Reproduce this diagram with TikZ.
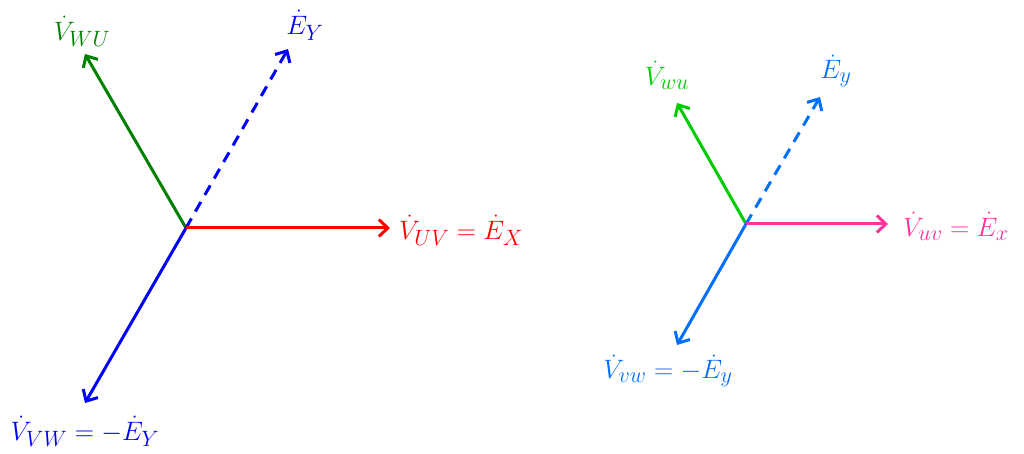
\documentclass[tikz,border=0pt]{standalone}
\usepackage{graphicx}
\usetikzlibrary{arrows.meta}
\definecolor{dgreen}{RGB}{0,128,0}
\definecolor{lgreen}{RGB}{0,204,0}
\definecolor{pinkc}{RGB}{255,51,153}
\definecolor{lblue}{RGB}{0,112,255}
\newcommand{\lbltext}[1]{\scalebox{1.07}{\Huge$#1$}}
\begin{document}
\begin{tikzpicture}[x=1pt,y=-1pt,
  vec/.style={line width=3pt,-{Straight Barb[length=9pt,width=17pt,line width=3pt]}},
  dvec/.style={vec,dash pattern=on 11pt off 8pt},
  lbl/.style={inner sep=0pt}]
\useasboundingbox (0,0) rectangle (1024,454);
% left diagram
\coordinate (O1) at (186,228);
\coordinate (A1) at (390,228);
\coordinate (B1) at (85,54);
\coordinate (C1) at (288,49);
\coordinate (D1) at (85,403);
\draw[vec,dgreen] (O1) -- (B1);
\draw[dvec,blue] (O1) -- (C1);
\draw[vec,blue] (O1) -- (D1);
\draw[vec,red] (O1) -- (A1);
\node[lbl,text=dgreen] (lb1) at (82,31) {\lbltext{\dot{V}_{WU}}};
\node[lbl,text=blue] (lc1) at (305,25) {\lbltext{\dot{E}_{Y}}};
\node[lbl,text=red,anchor=west] (la1) at (399,230) {\lbltext{\dot{V}_{UV}=\dot{E}_{X}}};
\node[lbl,text=blue] (ld1) at (85,431) {\lbltext{\dot{V}_{VW}=-\dot{E}_{Y}}};
% right diagram
\coordinate (O2) at (746,224);
\coordinate (A2) at (888,224);
\coordinate (B2) at (677,103);
\coordinate (C2) at (820,97);
\coordinate (D2) at (677,345);
\draw[vec,lgreen] (O2) -- (B2);
\draw[dvec,lblue] (O2) -- (C2);
\draw[vec,lblue] (O2) -- (D2);
\draw[vec,pinkc] (O2) -- (A2);
\node[lbl,text=lgreen] (lb2) at (667,75) {\lbltext{\dot{V}_{wu}}};
\node[lbl,text=lblue] (lc2) at (836,71) {\lbltext{\dot{E}_{y}}};
\node[lbl,text=pinkc,anchor=west] (la2) at (903,226) {\lbltext{\dot{V}_{uv}=\dot{E}_{x}}};
\node[lbl,text=lblue] (ld2) at (668,371) {\lbltext{\dot{V}_{vw}=-\dot{E}_{y}}};
\end{tikzpicture}
\end{document}
